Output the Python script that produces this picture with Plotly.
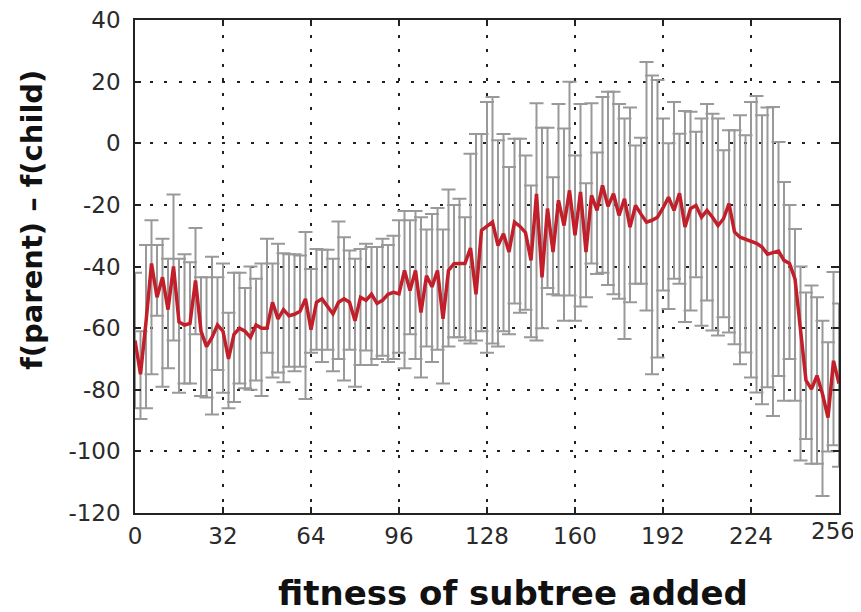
import plotly.graph_objects as go

x_vals = list(range(0, 258, 2))

mean_vals = [
    -64, -75, -58, -39, -50, -43.5, -54, -40, -58, -59,
    -58.5, -44.5, -61, -66, -63, -59, -61, -70, -62, -60,
    -61, -63, -59, -60, -60, -51.6, -57, -54, -56, -55.5,
    -54.5, -50.5, -60.5, -51.6, -50.5, -53, -55.4, -51.6, -50.5, -51.6,
    -57.6, -50, -51, -49, -52, -51, -49, -48.4, -48.9, -41.3,
    -47.8, -41.3, -54.9, -43, -46.6, -41.3, -57, -41.3, -39.1, -39,
    -39, -34, -49, -28.3, -27, -25.6, -33.2, -29.4, -35.3, -25.6,
    -27, -29, -38, -16.4, -43.5, -21.2, -35.3, -18.5, -26.7, -15.3,
    -29.9, -15.8, -35.3, -16.9, -21.8, -13.7, -20.5, -16.4, -23.4, -18,
    -27.2, -20.2, -23, -25.6, -25, -24, -21, -17.5, -21.8, -16.2,
    -27.2, -21.2, -20.2, -24, -21.8, -24, -26.7, -24.5, -19.6, -28.8,
    -30.5, -31.2, -31.8, -32.5, -33.7, -36, -35.5, -35, -38, -39,
    -44, -61, -77, -79.8, -75.4, -81.4, -89, -70.6, -78,
]

top_vals = [
    -42, -61, -33, -25, -33, -31, -37.5, -16.6, -37.5, -36,
    -38.6, -27.5, -43.5, -43.5, -36.8, -43.5, -39, -55, -42, -42,
    -47, -40, -44, -39, -31, -39, -32.6, -35.7, -36, -36,
    -36.4, -28.8, -40.8, -34.3, -34.6, -34.6, -37.5, -25.4, -30.5, -34.8,
    -37.5, -34.3, -32.6, -33.7, -33.7, -31, -33, -30, -25, -22,
    -25, -22, -24, -28, -23, -21, -28, -15, -20, -18,
    -24, -3.4, 3, 3, 13.4, 15, 1, 3, -7.7, 1.5,
    1.5, -4, -13.7, 13, 5, 5, -11, 12.7, 4.8, 20,
    -4, 12.7, -13, 13, -3, 15, 16.7, 16.7, 12.7, 8,
    11.6, -0.7, 1.8, 26.4, 22, 20.5, 8, 0, 13.4, 3.1,
    10.5, 10.2, 3.7, 8, 12.7, 9.6, 8, -2.3, 4.2, 4.2,
    9.1, 2.6, 13.4, 15.3, 9.1, 11.6, 11.8, 0.4, -12.6, -20,
    -27.8, -40, -48.4, -46.2, -50, -57.6, -64.6, -41.8, -52,
]

bottom_vals = [
    -86, -89.5, -86, -75, -56, -79, -73, -64, -81, -78,
    -78, -62, -82, -82.5, -88, -73.6, -81, -86, -84, -78,
    -79.5, -80, -77, -82, -68, -76, -74.4, -77.6, -72.5, -74,
    -72.5, -83, -68, -67, -71, -67, -74, -70, -77, -67,
    -79, -72, -67.3, -72, -70, -69, -71, -70, -68, -73,
    -62, -70, -76, -66, -71, -67, -78, -66, -63, -63,
    -64, -65, -64, -61, -68, -65, -66, -61, -62, -52,
    -55, -54, -63, -64, -60, -47, -49, -49.4, -57.6, -49.4,
    -57.6, -53, -50, -39, -42.4, -42, -46, -49, -50.5, -63.5,
    -51.6, -45.6, -45.6, -54.3, -75, -69.5, -47.8, -53.8, -44, -45.6,
    -58, -54.3, -43.5, -59.2, -51, -60.8, -62.4, -56.5, -61.4, -65.2,
    -71.7, -67.9, -76, -80.9, -84.7, -79.2, -88.5, -75.5, -83.6, -70,
    -83.6, -103, -96, -104, -104, -114.5, -100, -98, -105,
]

x_ticks = [0, 32, 64, 96, 128, 160, 192, 224, 256]
y_ticks = [40, 20, 0, -20, -40, -60, -80, -100, -120]

x_title = "fitness of subtree added"
y_title = "f(parent) – f(child)"

err_plus = [t - m for t, m in zip(top_vals, mean_vals)]
err_minus = [m - b for m, b in zip(mean_vals, bottom_vals)]

fig = go.Figure()
fig.add_trace(go.Scatter(
    x=x_vals, y=mean_vals, mode="markers",
    marker=dict(size=1, color="rgba(0,0,0,0)"),
    error_y=dict(type="data", symmetric=False, array=err_plus,
                 arrayminus=err_minus, color="#999999", thickness=2, width=7),
    showlegend=False, hoverinfo="skip",
))
fig.add_trace(go.Scatter(
    x=x_vals, y=mean_vals, mode="lines",
    line=dict(color="#c21f2a", width=3.5),
    showlegend=False,
))

tick_font = dict(family="DejaVu Sans", size=23, color="#2a2a2a")
axis_common = dict(
    showline=True, linecolor="#222222", linewidth=1.5, mirror="allticks",
    ticks="inside", ticklen=6, tickcolor="#222222", tickwidth=1.5,
    showgrid=True, gridcolor="#222222", griddash="3px,11.5px", gridwidth=1.5,
    zeroline=False, automargin=False, ticklabeloverflow="allow",
    tickfont=tick_font,
)

# last x label is drawn as an annotation pulled slightly inward so it is not cut off
x_ticktext = [str(v) for v in x_ticks[:-1]] + [""]
fig.update_xaxes(range=[0, 256], tickvals=x_ticks, ticktext=x_ticktext,
                 ticklabelstandoff=2, **axis_common)
fig.update_yaxes(range=[-120, 40], tickvals=y_ticks, ticktext=[str(v) for v in y_ticks],
                 ticklabelstandoff=8, **axis_common)

# figure is placed 8px from the page's top-left corner by the page's body margin
FIG_W, FIG_H = 853, 604
ML, MR, MT, MB = 126.5, 22, 11.5, 99
pw = FIG_W - ML - MR
ph = FIG_H - MT - MB

fig.add_annotation(text=str(x_ticks[-1]), x=256, y=0, xref="x", yref="paper",
                   xanchor="right", yanchor="top", yshift=-3, xshift=18, showarrow=False,
                   font=tick_font)
fig.add_annotation(text=x_title, x=(505 - ML) / pw, y=(FIG_H - MB - 585) / ph,
                   xref="paper", yref="paper",
                   xanchor="center", yanchor="middle", showarrow=False,
                   font=dict(family="DejaVu Sans", size=34, color="#111111", weight="bold"))
fig.add_annotation(text=y_title, x=(24 - ML) / pw, y=(FIG_H - MB - 212) / ph,
                   xref="paper", yref="paper",
                   xanchor="center", yanchor="middle", showarrow=False, textangle=-90,
                   font=dict(family="DejaVu Sans", size=29, color="#111111", weight="bold"))

fig.update_layout(
    width=FIG_W, height=FIG_H,
    margin=dict(l=ML, r=MR, t=MT, b=MB),
    plot_bgcolor="white", paper_bgcolor="white",
)

fig.write_html("out.html")
